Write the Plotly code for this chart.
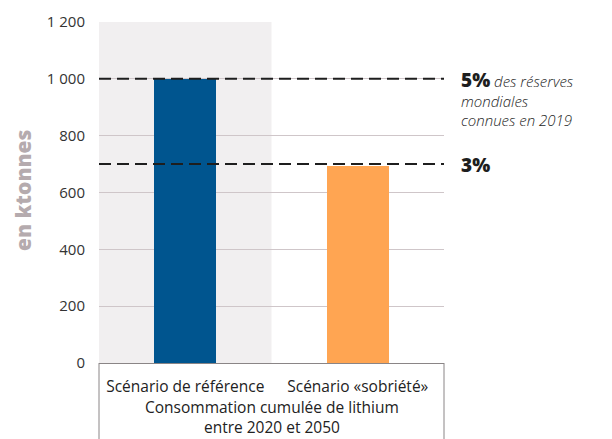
import plotly.graph_objects as go

# Cumulative lithium consumption 2020-2050 (ktonnes)
scenarios = ["Scénario de référence", "Scénario «sobriété»"]
consumption = [1000, 695]
bar_colors = ["#00558f", "#ffa552"]

# Reference thresholds: share of known world reserves in 2019
threshold_values = [1000, 700]
threshold_pct = ["5%", "3%"]
threshold_notes = ["des réserves<br>mondiales<br>connues en 2019", ""]

tick_vals = [0, 200, 400, 600, 800, 1000, 1200]
tick_text = ["0", "200", "400", "600", "800", "1 000", "1 200"]

axis_title = "en ktonnes"
group_title = "Consommation cumulée de lithium<br>entre 2020 et 2050"

FONT = "Open Sans"
W, H = 612, 439
L, R, T, B = 99, 168, 22, 76
PLOT_H = H - T - B


def paper_y(py):
    """Convert a pixel row (from the top) to paper coordinates."""
    return (H - B - py) / PLOT_H


fig = go.Figure()
fig.add_trace(go.Bar(
    x=scenarios, y=consumption,
    marker=dict(color=bar_colors, line=dict(width=0)),
    width=0.36, hoverinfo="skip",
))

shapes = []
# shaded band behind the reference scenario
shapes.append(dict(type="rect", xref="x", yref="paper", x0=-0.5, x1=0.5, y0=0, y1=1,
                   fillcolor="#f1eff0", line=dict(width=0), layer="below"))
# dashed threshold lines
for v in threshold_values:
    shapes.append(dict(type="line", xref="paper", yref="y", x0=0, x1=1, y0=v, y1=v,
                       line=dict(color="#1e1e1e", width=2, dash="12px,6px"), layer="above"))
# frame around the category labels
for xp in (0, 1):
    shapes.append(dict(type="line", xref="paper", yref="paper", x0=xp, x1=xp,
                       y0=0, y1=paper_y(H + 2), line=dict(color="#8a8586", width=1)))

annotations = []
for v, pct, note in zip(threshold_values, threshold_pct, threshold_notes):
    txt = f'<span style="font-size:19px;font-weight:800">{pct}</span>'
    if note:
        txt += f" <i>{note}</i>"
    annotations.append(dict(
        xref="paper", yref="y", x=1, xshift=15, y=v, yshift=14,
        xanchor="left", yanchor="top", align="left", showarrow=False,
        text=txt, font=dict(family=FONT, size=15, color="#1e1e1e", weight=300),
    ))
annotations.append(dict(
    xref="paper", yref="paper", x=0.5, y=paper_y(417),
    xanchor="center", yanchor="middle", showarrow=False, text=group_title,
    font=dict(family=FONT, size=15.5, color="#222222"),
))
annotations.append(dict(
    xref="paper", yref="paper", x=0, xshift=-76, y=paper_y(190),
    xanchor="center", yanchor="middle", showarrow=False, textangle=-90,
    text=axis_title, font=dict(family=FONT, size=21, color="#b5abae", weight=800),
))

fig.update_layout(
    width=W, height=H,
    margin=dict(l=L, r=R, t=T, b=B, pad=0),
    paper_bgcolor="white", plot_bgcolor="white",
    showlegend=False, bargap=0,
    shapes=shapes, annotations=annotations,
    xaxis=dict(range=[-0.5, 1.5], showgrid=False, showline=True, linecolor="#8a8586",
               linewidth=1, ticks="", ticklabelstandoff=9,
               tickfont=dict(family=FONT, size=15.5, color="#222222"), fixedrange=True),
    yaxis=dict(range=[0, 1200], tickvals=tick_vals, ticktext=tick_text,
               showgrid=True, gridcolor="#cfc6c9", gridwidth=1, zeroline=False,
               showline=False, ticks="", ticklabelstandoff=13,
               tickfont=dict(family=FONT, size=15, color="#333333"), fixedrange=True),
)

fig.write_html("out.html", config={"displayModeBar": False})
